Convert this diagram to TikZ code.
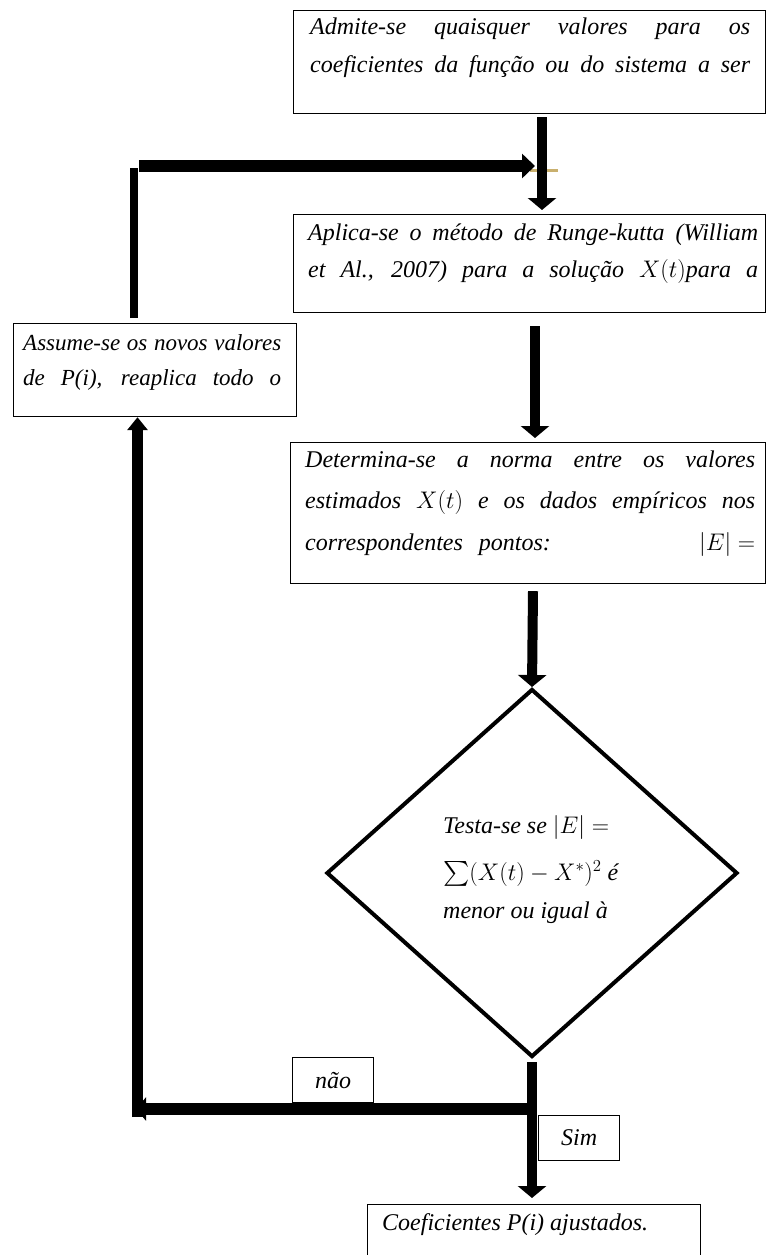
\RequirePackage{fix-cm}
\documentclass[tikz,border=0pt]{standalone}
\usepackage{amsmath}
\usepackage{exscale}
\usepackage{fontspec}
\setmainfont{Liberation Serif}
\usetikzlibrary{arrows.meta,shapes.geometric}
\definecolor{gold}{RGB}{201,176,110}
\newcommand\tfont{\itshape\fontsize{24}{28}\selectfont}
\newcommand\sfontb{\itshape\fontsize{23}{27}\selectfont}
\tikzset{
  box/.style={draw=black, line width=1.2pt, rectangle, anchor=north west, inner sep=0pt},
  txt/.style={inner sep=0pt, anchor=base west, font=\tfont},
  flow/.style={line width=10pt, -{Triangle[width=28pt,length=12pt]}},
  flowh/.style={line width=12pt, -{Triangle[width=24pt,length=13pt]}},
  flowup/.style={line width=11pt, -{Triangle[width=20pt,length=13pt]}},
  flowleft/.style={line width=12pt, -{Triangle[width=23pt,length=10pt]}},
  plain/.style={line width=8pt},
}
\begin{document}
\begin{tikzpicture}[x=1pt,y=-1pt]
\useasboundingbox (0,0) rectangle (766,1255);

% boxes
\node[box, minimum width=472pt, minimum height=103pt] (b1) at (293,10) {};
\node[box, minimum width=472pt, minimum height=98pt] (b2) at (293,214) {};
\node[box, minimum width=283pt, minimum height=93pt] (b4) at (13,323) {};
\node[box, minimum width=475pt, minimum height=141pt] (b3) at (290,442) {};
\node[draw=black, line width=4pt, shape=diamond, inner sep=0pt,
      minimum width=411pt, minimum height=368pt] (test) at (532,873) {};
\node[box, minimum width=81pt, minimum height=45pt] (lno) at (292,1057) {};
\node[box, minimum width=81pt, minimum height=45pt] (lsim) at (538,1115) {};
\node[box, minimum width=333pt, minimum height=75pt] (b5) at (367,1204) {};

% texts
\node[txt] (t11) at (310,35) {\makebox[440pt][s]{Admite-se quaisquer valores para os}};
\node[txt] (t12) at (310,72) {\makebox[440pt][s]{coeficientes da função ou do sistema a ser}};
\node[txt] (t21) at (308,240) {\makebox[450pt][s]{Aplica-se o método de Runge-kutta (William}};
\node[txt] (t22) at (308,277) {\makebox[450pt][s]{et Al., 2007) para a solução $X(t)$para a}};
\node[txt, font=\sfontb] (t41) at (23,350) {\makebox[258pt][s]{Assume-se os novos valores}};
\node[txt, font=\sfontb] (t42) at (23,385) {\makebox[258pt][s]{de P(i), reaplica todo o}};
\node[txt] (t31) at (305,467) {\makebox[450pt][s]{Determina-se a norma entre os valores}};
\node[txt] (t32) at (305,508) {\makebox[450pt][s]{estimados $X(t)$ e os dados empíricos nos}};
\node[txt] (t33) at (305,550) {\makebox[450pt][l]{correspondentes\hspace{16pt}pontos:\hfill$|E| =$}};
\node[txt] (td1) at (443,833) {Testa-se se $|E| =$};
\node[txt] (td2) at (443,880) {$\sum(X(t) - X^{*})^{2}$ é};
\node[txt] (td3) at (443,918) {menor ou igual à};
\node[txt, anchor=center] (tno) at (lno.center) {não};
\node[txt, anchor=center] (tsim) at (lsim.center) {Sim};
\node[txt] (t5) at (382,1230) {Coeficientes P(i) ajustados.};

% helper coordinates for connector columns
\coordinate (xa1) at (542,0);
\coordinate (xa2) at (535,0);
\coordinate (xa3) at (533,0);
\coordinate (xa4) at (532,0);
\coordinate (xl) at (137.5,0);
\coordinate (vtop) at (134,168);
\coordinate (hstart) at (139,166);
\coordinate (hend) at (535,166);
\coordinate (jn) at (532,1109);
\coordinate (cornerlow) at (137.5,1117);
\coordinate (tipleft) at (136,1109);

% gold stray line
\draw[gold, line width=3pt] (530,170) -- (558,170);

% connectors
\draw[flow] ([yshift=-3pt]b1.south -| xa1) -- ([yshift=4pt]b2.north -| xa1);
\draw[flow] ([yshift=-13pt]b2.south -| xa2) -- ([yshift=4pt]b3.north -| xa2);
\draw[flow] ([yshift=-7pt]b3.south -| xa3) -- (test.north);
\draw[flow] ([yshift=-3pt]test.south -| xa4) -- ([yshift=6pt]b5.north -| xa4);

% loop back
\draw[plain] ([yshift=5pt]b4.north -| vtop) -- (vtop);
\draw[flowh] (hstart) -- (hend);
\draw[flowup] (cornerlow) -- (b4.south -| xl);
\draw[flowleft] (jn) -- (tipleft);
\end{tikzpicture}
\end{document}
